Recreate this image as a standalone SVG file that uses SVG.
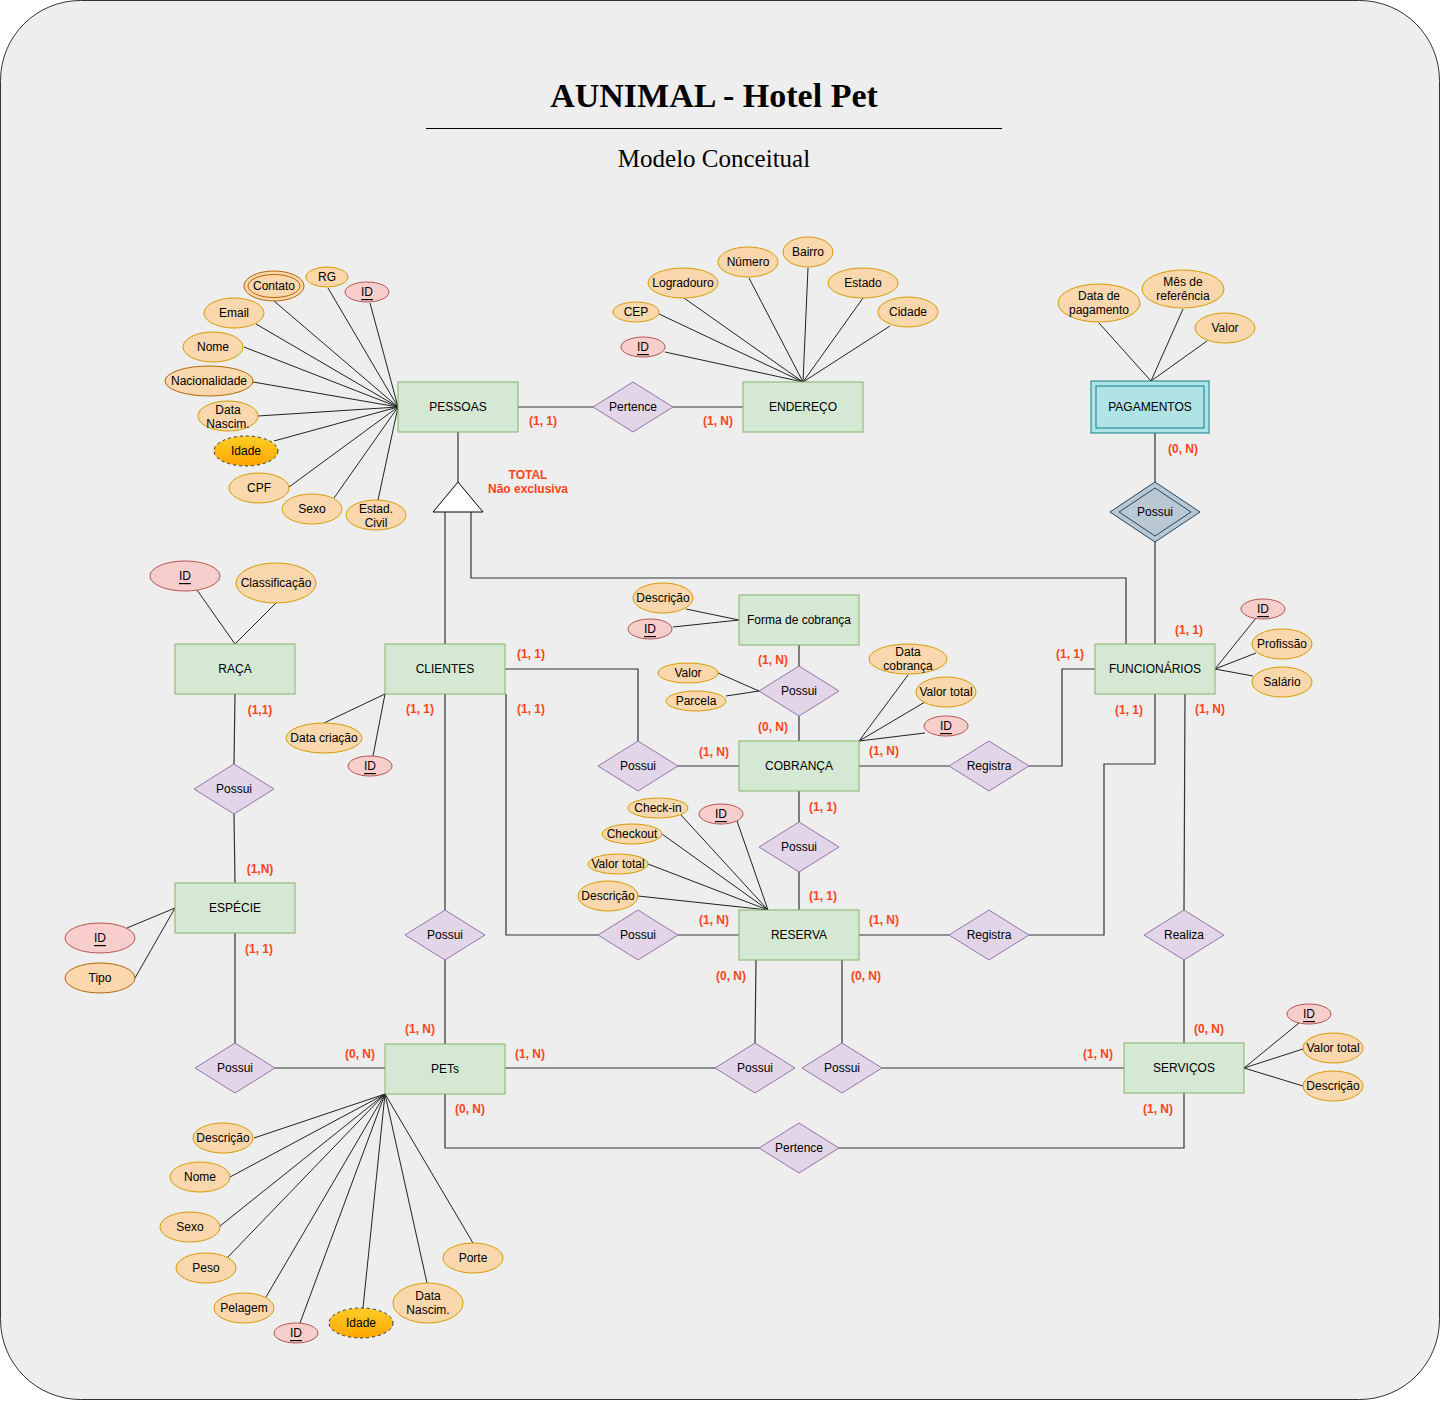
<svg xmlns="http://www.w3.org/2000/svg" width="1441" height="1401" viewBox="0 0 1441 1401">
<defs>
<linearGradient id="gIdade" x1="0" y1="0" x2="0" y2="1">
<stop offset="0" stop-color="#ffcd28"/>
<stop offset="1" stop-color="#ffa500"/>
</linearGradient>
<style>
.bg{fill:#eeeeee;stroke:#333333;stroke-width:1}
.ent{fill:#d5e8d4;stroke:#82b366;stroke-width:1}
.rel{fill:#e1d5e7;stroke:#9673a6;stroke-width:1}
.att{fill:#fad7ac;stroke:#d79b00;stroke-width:1}
.attd{fill:#fad7ac;stroke:#b46504;stroke-width:1}
.key{fill:#f8cecc;stroke:#b85450;stroke-width:1}
.der{fill:url(#gIdade);stroke:#333333;stroke-width:1;stroke-dasharray:3 3}
.weak{fill:#b0e3e6;stroke:#0e8088;stroke-width:1}
.wrel{fill:#bac8d3;stroke:#23445d;stroke-width:1}
.ln{fill:none;stroke:#222222;stroke-width:1}
.cn{fill:none;stroke:#333333;stroke-width:1.2}
text{font-family:"Liberation Sans",Arial,Helvetica,sans-serif;font-size:12px;fill:#000000;text-anchor:middle;dominant-baseline:central}
.card{fill:#ff4419;font-weight:bold}
.u{text-decoration:underline}
.title{font-family:"Liberation Serif","Times New Roman",serif;font-weight:bold;font-size:34px;dominant-baseline:auto}
.sub{font-family:"Liberation Serif","Times New Roman",serif;font-size:25px;dominant-baseline:auto}
</style>
</defs>
<rect class="bg" x="0.5" y="0.5" width="1439" height="1399" rx="80" ry="80"/>
<g id="title">
<text class="title" x="714" y="107">AUNIMAL - Hotel Pet</text>
<line x1="426" y1="128.5" x2="1002" y2="128.5" stroke="#000" stroke-width="1"/>
<text class="sub" x="714" y="167">Modelo Conceitual</text>
</g>

<g id="connectors">
<path class="ln" d="M274,301 L398,407 M328,288 L398,407 M370,303 L398,407 M256,324 L398,407 M244,347 L398,407 M253,382 L398,407 M258,416 L398,407 M274,441 L398,407 M289,487 L398,407 M334,498 L398,407 M378,500 L398,407"/>
<path class="ln" d="M749,278 L803,382 M808,268 L803,382 M684,298 L803,382 M863,298 L803,382 M659,314 L803,382 M890,326 L803,382 M665,352 L803,382"/>
<path class="ln" d="M1099,323 L1151,381 M1183,309 L1151,381 M1207,341 L1151,381"/>
<path class="ln" d="M197,590 L235,644 M276,603 L235,644"/>
<path class="ln" d="M324,723 L385,694 M373,756 L385,694"/>
<path class="ln" d="M127,928 L175,908 M135,978 L175,908"/>
<path class="ln" d="M686,609 L739,620 M673,627 L739,620"/>
<path class="ln" d="M718,673 L759,691 M726,696 L759,691"/>
<path class="ln" d="M908,675 L859,741 M925,702 L859,741 M925,733 L859,741"/>
<path class="ln" d="M681,815 L768,910 M737,821 L768,910 M662,834 L768,910 M648,864 L768,910 M638,896 L768,910"/>
<path class="ln" d="M1256,618 L1215,669 M1256,653 L1215,669 M1253,676 L1215,669"/>
<path class="ln" d="M1299,1023 L1244,1068 M1303,1049 L1244,1068 M1303,1086 L1244,1068"/>
<path class="ln" d="M254,1138 L385,1094 M230,1177 L385,1094 M220,1226 L385,1094 M227,1258 L385,1094 M266,1297 L385,1094 M300,1323 L385,1094 M363,1308 L385,1094 M427,1283 L385,1094 M473,1243 L385,1094"/>

<path class="cn" d="M518,407 L593,407 M673,407 L743,407"/>
<path class="cn" d="M458,432 L458,482"/>
<path class="cn" d="M445,512 L445,644"/>
<path class="cn" d="M471,512 L471,578 L1126,578 L1126,644"/>
<path class="cn" d="M1155,433 L1155,482 M1155,542 L1155,644"/>
<path class="cn" d="M235,694 L234,764 M234,814 L235,883"/>
<path class="cn" d="M235,933 L235,1043 M275,1068 L385,1068"/>
<path class="cn" d="M445,694 L445,910 M445,960 L445,1044"/>
<path class="cn" d="M505,669 L638,669 L638,741 M678,766 L739,766"/>
<path class="cn" d="M506,694 L506,935 L598,935 M678,935 L739,935"/>
<path class="cn" d="M799,645 L799,666 M799,716 L799,741"/>
<path class="cn" d="M859,766 L949,766 M1029,766 L1062,766 L1062,669 L1095,669"/>
<path class="cn" d="M799,791 L799,822 M799,872 L799,910"/>
<path class="cn" d="M859,935 L949,935 M1029,935 L1104,935 L1104,764 L1155,764 L1155,694"/>
<path class="cn" d="M1185,694 L1184,910 M1184,960 L1184,1043"/>
<path class="cn" d="M756,960 L755,1043 M842,960 L842,1043"/>
<path class="cn" d="M505,1068 L715,1068 M882,1068 L1124,1068"/>
<path class="cn" d="M445,1094 L445,1148 L759,1148 M839,1148 L1184,1148 L1184,1093"/>
</g>

<g id="cardinalities">
<text class="card" x="543" y="421">(1, 1)</text>
<text class="card" x="718" y="421">(1, N)</text>
<text class="card" x="1183" y="449">(0, N)</text>
<text class="card" x="1189" y="630">(1, 1)</text>
<text class="card" x="260" y="710">(1,1)</text>
<text class="card" x="260" y="869">(1,N)</text>
<text class="card" x="259" y="949">(1, 1)</text>
<text class="card" x="360" y="1054">(0, N)</text>
<text class="card" x="420" y="709">(1, 1)</text>
<text class="card" x="420" y="1029">(1, N)</text>
<text class="card" x="531" y="654">(1, 1)</text>
<text class="card" x="531" y="709">(1, 1)</text>
<text class="card" x="714" y="752">(1, N)</text>
<text class="card" x="714" y="920">(1, N)</text>
<text class="card" x="773" y="660">(1, N)</text>
<text class="card" x="773" y="727">(0, N)</text>
<text class="card" x="884" y="751">(1, N)</text>
<text class="card" x="1070" y="654">(1, 1)</text>
<text class="card" x="823" y="807">(1, 1)</text>
<text class="card" x="823" y="896">(1, 1)</text>
<text class="card" x="884" y="920">(1, N)</text>
<text class="card" x="1129" y="710">(1, 1)</text>
<text class="card" x="1210" y="709">(1, N)</text>
<text class="card" x="1209" y="1029">(0, N)</text>
<text class="card" x="731" y="976">(0, N)</text>
<text class="card" x="866" y="976">(0, N)</text>
<text class="card" x="530" y="1054">(1, N)</text>
<text class="card" x="1098" y="1054">(1, N)</text>
<text class="card" x="470" y="1109">(0, N)</text>
<text class="card" x="1158" y="1109">(1, N)</text>
<text class="card" x="528" y="475">TOTAL</text>
<text class="card" x="528" y="489">Não exclusiva</text>
</g>

<g id="specialization">
<polygon points="458,482 483,512 433,512" fill="#ffffff" stroke="#000000" stroke-width="1"/>
</g>

<g id="pessoas"><rect class="ent" x="398" y="382" width="120" height="50"/><text x="458" y="407">PESSOAS</text></g>
<g id="endereco"><rect class="ent" x="743" y="382" width="120" height="50"/><text x="803" y="407">ENDEREÇO</text></g>
<g id="pagamentos"><rect class="weak" x="1091" y="381" width="118" height="52"/><rect class="weak" x="1096" y="386" width="108" height="42"/><text x="1150" y="407">PAGAMENTOS</text></g>
<g id="clientes"><rect class="ent" x="385" y="644" width="120" height="50"/><text x="445" y="669">CLIENTES</text></g>
<g id="raca"><rect class="ent" x="175" y="644" width="120" height="50"/><text x="235" y="669">RAÇA</text></g>
<g id="forma"><rect class="ent" x="739" y="595" width="120" height="50"/><text x="799" y="620">Forma de cobrança</text></g>
<g id="funcionarios"><rect class="ent" x="1095" y="644" width="120" height="50"/><text x="1155" y="669">FUNCIONÁRIOS</text></g>
<g id="cobranca"><rect class="ent" x="739" y="741" width="120" height="50"/><text x="799" y="766">COBRANÇA</text></g>
<g id="especie"><rect class="ent" x="175" y="883" width="120" height="50"/><text x="235" y="908">ESPÉCIE</text></g>
<g id="reserva"><rect class="ent" x="739" y="910" width="120" height="50"/><text x="799" y="935">RESERVA</text></g>
<g id="pets"><rect class="ent" x="385" y="1044" width="120" height="50"/><text x="445" y="1069">PETs</text></g>
<g id="servicos"><rect class="ent" x="1124" y="1043" width="120" height="50"/><text x="1184" y="1068">SERVIÇOS</text></g>

<g id="r-pertence1"><polygon class="rel" points="633,382 673,407 633,432 593,407"/><text x="633" y="407">Pertence</text></g>
<g id="r-possui-pag"><polygon class="wrel" points="1155,482 1200,512 1155,542 1110,512"/><polygon class="wrel" points="1155,488 1191,512 1155,536 1119,512"/><text x="1155" y="512">Possui</text></g>
<g id="r-possui-raca"><polygon class="rel" points="234,764 274,789 234,814 194,789"/><text x="234" y="789">Possui</text></g>
<g id="r-possui-forma"><polygon class="rel" points="799,666 839,691 799,716 759,691"/><text x="799" y="691">Possui</text></g>
<g id="r-possui-cli-cob"><polygon class="rel" points="638,741 678,766 638,791 598,766"/><text x="638" y="766">Possui</text></g>
<g id="r-registra1"><polygon class="rel" points="989,741 1029,766 989,791 949,766"/><text x="989" y="766">Registra</text></g>
<g id="r-possui-cob-res"><polygon class="rel" points="799,822 839,847 799,872 759,847"/><text x="799" y="847">Possui</text></g>
<g id="r-possui-cli-pet"><polygon class="rel" points="445,910 485,935 445,960 405,935"/><text x="445" y="935">Possui</text></g>
<g id="r-possui-cli-res"><polygon class="rel" points="638,910 678,935 638,960 598,935"/><text x="638" y="935">Possui</text></g>
<g id="r-registra2"><polygon class="rel" points="989,910 1029,935 989,960 949,935"/><text x="989" y="935">Registra</text></g>
<g id="r-realiza"><polygon class="rel" points="1184,910 1224,935 1184,960 1144,935"/><text x="1184" y="935">Realiza</text></g>
<g id="r-possui-esp-pet"><polygon class="rel" points="235,1043 275,1068 235,1093 195,1068"/><text x="235" y="1068">Possui</text></g>
<g id="r-possui-res-pet"><polygon class="rel" points="755,1043 795,1068 755,1093 715,1068"/><text x="755" y="1068">Possui</text></g>
<g id="r-possui-res-serv"><polygon class="rel" points="842,1043 882,1068 842,1093 802,1068"/><text x="842" y="1068">Possui</text></g>
<g id="r-pertence2"><polygon class="rel" points="799,1123 839,1148 799,1173 759,1148"/><text x="799" y="1148">Pertence</text></g>

<g id="a-p-contato"><ellipse class="attd" cx="274" cy="286" rx="30" ry="15"/><ellipse class="attd" cx="274" cy="286" rx="26" ry="11.5"/><text x="274" y="286">Contato</text></g>
<g id="a-p-rg"><ellipse class="att" cx="327" cy="277" rx="21" ry="10"/><text x="327" y="277">RG</text></g>
<g id="a-p-id"><ellipse class="key" cx="367" cy="292" rx="22" ry="10"/><text class="u" x="367" y="292">ID</text></g>
<g id="a-p-email"><ellipse class="att" cx="234" cy="313" rx="30" ry="15"/><text x="234" y="313">Email</text></g>
<g id="a-p-nome"><ellipse class="att" cx="213" cy="347" rx="30" ry="15"/><text x="213" y="347">Nome</text></g>
<g id="a-p-nac"><ellipse class="attd" cx="209" cy="381" rx="44" ry="15"/><text x="209" y="381">Nacionalidade</text></g>
<g id="a-p-data"><ellipse class="att" cx="228" cy="416" rx="30" ry="15"/><text x="228" y="410">Data</text><text x="228" y="424">Nascim.</text></g>
<g id="a-p-idade"><ellipse class="der" cx="246" cy="451" rx="32" ry="15"/><text x="246" y="451">Idade</text></g>
<g id="a-p-cpf"><ellipse class="att" cx="259" cy="488" rx="30" ry="15"/><text x="259" y="488">CPF</text></g>
<g id="a-p-sexo"><ellipse class="att" cx="312" cy="509" rx="30" ry="15"/><text x="312" y="509">Sexo</text></g>
<g id="a-p-civil"><ellipse class="att" cx="376" cy="515" rx="30" ry="15"/><text x="376" y="509">Estad.</text><text x="376" y="523">Civil</text></g>

<g id="a-e-numero"><ellipse class="att" cx="748" cy="262" rx="30" ry="15"/><text x="748" y="262">Número</text></g>
<g id="a-e-bairro"><ellipse class="att" cx="808" cy="252" rx="25" ry="15"/><text x="808" y="252">Bairro</text></g>
<g id="a-e-log"><ellipse class="att" cx="683" cy="283" rx="35" ry="15"/><text x="683" y="283">Logradouro</text></g>
<g id="a-e-estado"><ellipse class="att" cx="863" cy="283" rx="35" ry="15"/><text x="863" y="283">Estado</text></g>
<g id="a-e-cep"><ellipse class="att" cx="636" cy="312" rx="23" ry="10"/><text x="636" y="312">CEP</text></g>
<g id="a-e-cidade"><ellipse class="att" cx="908" cy="312" rx="30" ry="15"/><text x="908" y="312">Cidade</text></g>
<g id="a-e-id"><ellipse class="key" cx="643" cy="347" rx="22" ry="10"/><text class="u" x="643" y="347">ID</text></g>

<g id="a-pg-data"><ellipse class="att" cx="1099" cy="303" rx="41" ry="19"/><text x="1099" y="296">Data de</text><text x="1099" y="310">pagamento</text></g>
<g id="a-pg-mes"><ellipse class="att" cx="1183" cy="289" rx="41" ry="19"/><text x="1183" y="282">Mês de</text><text x="1183" y="296">referência</text></g>
<g id="a-pg-valor"><ellipse class="att" cx="1225" cy="328" rx="30" ry="15"/><text x="1225" y="328">Valor</text></g>

<g id="a-r-id"><ellipse class="key" cx="185" cy="576" rx="35" ry="15"/><text class="u" x="185" y="576">ID</text></g>
<g id="a-r-class"><ellipse class="att" cx="276" cy="583" rx="40" ry="20"/><text x="276" y="583">Classificação</text></g>

<g id="a-c-data"><ellipse class="att" cx="324" cy="738" rx="38" ry="15"/><text x="324" y="738">Data criação</text></g>
<g id="a-c-id"><ellipse class="key" cx="370" cy="766" rx="22" ry="10"/><text class="u" x="370" y="766">ID</text></g>

<g id="a-es-id"><ellipse class="key" cx="100" cy="938" rx="35" ry="15"/><text class="u" x="100" y="938">ID</text></g>
<g id="a-es-tipo"><ellipse class="attd" cx="100" cy="978" rx="35" ry="15"/><text x="100" y="978">Tipo</text></g>

<g id="a-f-desc"><ellipse class="att" cx="663" cy="598" rx="30" ry="15"/><text x="663" y="598">Descrição</text></g>
<g id="a-f-id"><ellipse class="key" cx="650" cy="629" rx="22" ry="10"/><text class="u" x="650" y="629">ID</text></g>

<g id="a-pf-valor"><ellipse class="att" cx="688" cy="673" rx="30" ry="10"/><text x="688" y="673">Valor</text></g>
<g id="a-pf-parcela"><ellipse class="att" cx="696" cy="701" rx="30" ry="10"/><text x="696" y="701">Parcela</text></g>

<g id="a-co-data"><ellipse class="att" cx="908" cy="659" rx="39" ry="15"/><text x="908" y="652">Data</text><text x="908" y="666">cobrança</text></g>
<g id="a-co-valor"><ellipse class="att" cx="946" cy="692" rx="30" ry="15"/><text x="946" y="692">Valor total</text></g>
<g id="a-co-id"><ellipse class="key" cx="946" cy="726" rx="22" ry="10"/><text class="u" x="946" y="726">ID</text></g>

<g id="a-re-checkin"><ellipse class="att" cx="658" cy="808" rx="30" ry="10"/><text x="658" y="808">Check-in</text></g>
<g id="a-re-id"><ellipse class="key" cx="721" cy="814" rx="22" ry="10"/><text class="u" x="721" y="814">ID</text></g>
<g id="a-re-checkout"><ellipse class="att" cx="632" cy="834" rx="30" ry="10"/><text x="632" y="834">Checkout</text></g>
<g id="a-re-valor"><ellipse class="att" cx="618" cy="864" rx="30" ry="10"/><text x="618" y="864">Valor total</text></g>
<g id="a-re-desc"><ellipse class="att" cx="608" cy="896" rx="30" ry="15"/><text x="608" y="896">Descrição</text></g>

<g id="a-fu-id"><ellipse class="key" cx="1263" cy="609" rx="22" ry="10"/><text class="u" x="1263" y="609">ID</text></g>
<g id="a-fu-prof"><ellipse class="att" cx="1282" cy="644" rx="30" ry="15"/><text x="1282" y="644">Profissão</text></g>
<g id="a-fu-sal"><ellipse class="att" cx="1282" cy="682" rx="30" ry="15"/><text x="1282" y="682">Salário</text></g>

<g id="a-s-id"><ellipse class="key" cx="1309" cy="1014" rx="22" ry="10"/><text class="u" x="1309" y="1014">ID</text></g>
<g id="a-s-valor"><ellipse class="att" cx="1333" cy="1048" rx="30" ry="15"/><text x="1333" y="1048">Valor total</text></g>
<g id="a-s-desc"><ellipse class="att" cx="1333" cy="1086" rx="30" ry="15"/><text x="1333" y="1086">Descrição</text></g>

<g id="a-pt-desc"><ellipse class="att" cx="223" cy="1138" rx="30" ry="15"/><text x="223" y="1138">Descrição</text></g>
<g id="a-pt-nome"><ellipse class="att" cx="200" cy="1177" rx="30" ry="15"/><text x="200" y="1177">Nome</text></g>
<g id="a-pt-sexo"><ellipse class="att" cx="190" cy="1227" rx="30" ry="15"/><text x="190" y="1227">Sexo</text></g>
<g id="a-pt-peso"><ellipse class="att" cx="206" cy="1268" rx="30" ry="15"/><text x="206" y="1268">Peso</text></g>
<g id="a-pt-pelagem"><ellipse class="att" cx="244" cy="1308" rx="30" ry="15"/><text x="244" y="1308">Pelagem</text></g>
<g id="a-pt-id"><ellipse class="key" cx="296" cy="1333" rx="22" ry="10"/><text class="u" x="296" y="1333">ID</text></g>
<g id="a-pt-idade"><ellipse class="der" cx="361" cy="1323" rx="32" ry="15"/><text x="361" y="1323">Idade</text></g>
<g id="a-pt-data"><ellipse class="att" cx="428" cy="1303" rx="35" ry="20"/><text x="428" y="1296">Data</text><text x="428" y="1310">Nascim.</text></g>
<g id="a-pt-porte"><ellipse class="att" cx="473" cy="1258" rx="30" ry="15"/><text x="473" y="1258">Porte</text></g>
</svg>
